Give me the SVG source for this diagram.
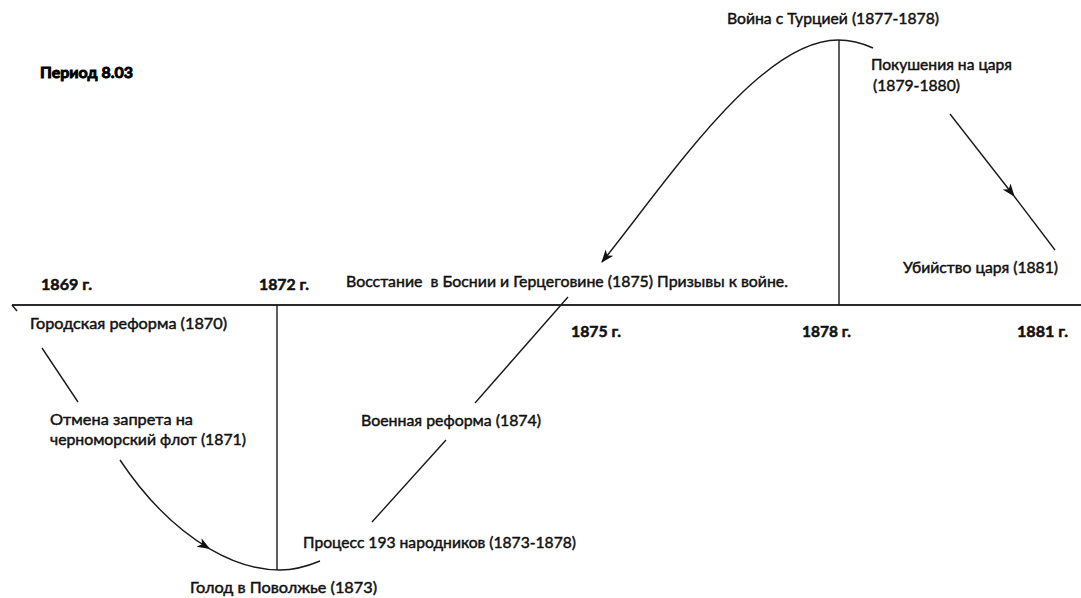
<svg xmlns="http://www.w3.org/2000/svg" width="1081" height="598" viewBox="0 0 1081 598">
<style>
.lbl{font-family:Lato,"Liberation Sans",sans-serif;font-size:15px;fill:#111;stroke:#111;stroke-width:0.45px;}
.yr{font-family:Lato,"Liberation Sans",sans-serif;font-size:15px;font-weight:bold;fill:#111;stroke:#111;stroke-width:0.5px;}
.ttl{font-family:Lato,"Liberation Sans",sans-serif;font-size:15px;font-weight:bold;fill:#000;stroke:#000;stroke-width:0.9px;}
.ln{fill:none;stroke:#1a1a1a;stroke-width:1.4;}
.axis{fill:none;stroke:#2a2a2a;stroke-width:1.8;}
</style>
<defs>
<marker id="ah" markerUnits="userSpaceOnUse" markerWidth="14" markerHeight="12" refX="12" refY="5" orient="auto" viewBox="0 0 14 10">
<path d="M0,0 L13,5 L0,10 L3.5,5 z" fill="#111"/>
</marker>
</defs>
<rect width="1081" height="598" fill="#fff"/>
<g id="connectors">
<path class="axis" d="M12,305 L1081,305"/>
<path class="ln" d="M12,305 L17,311"/>
<path class="ln" d="M277,305 L277,570"/>
<path class="ln" d="M839,40 L839,305"/>
<path class="ln" d="M42,348 L78,402"/>
<path class="ln" d="M120,460 C144,496 175.2,528.4 209.3,548.6" marker-end="url(#ah)"/>
<path class="ln" d="M209.3,548.6 C232,562 256,570 280,570 C295,570 308,566 320,561"/>
<path class="ln" d="M372,522 L446,440"/>
<path class="ln" d="M475,403 L568,297"/>
<path class="ln" d="M873,48 C862,43 852,40 838,40 C760,40 668,180 602,262" marker-end="url(#ah)"/>
<path class="ln" d="M950,114 L1014,196" marker-end="url(#ah)"/>
<path class="ln" d="M1014,196 L1055,250"/>
</g>
<g id="title"><text class="ttl" x="40" y="78" textLength="93" lengthAdjust="spacingAndGlyphs">Период 8.03</text></g>
<g id="y1869"><text class="yr" x="41" y="290" textLength="51" lengthAdjust="spacingAndGlyphs">1869 г.</text></g>
<g id="y1872"><text class="yr" x="259" y="290" textLength="50" lengthAdjust="spacingAndGlyphs">1872 г.</text></g>
<g id="y1875"><text class="yr" x="571" y="337" textLength="50" lengthAdjust="spacingAndGlyphs">1875 г.</text></g>
<g id="y1878"><text class="yr" x="802" y="337" textLength="49" lengthAdjust="spacingAndGlyphs">1878 г.</text></g>
<g id="y1881"><text class="yr" x="1017" y="337" textLength="51" lengthAdjust="spacingAndGlyphs">1881 г.</text></g>
<g id="bosnia"><text class="lbl" x="346" y="287" textLength="442" lengthAdjust="spacingAndGlyphs" xml:space="preserve">Восстание  в Боснии и Герцеговине (1875) Призывы к войне.</text></g>
<g id="war"><text class="lbl" x="727" y="24" textLength="212" lengthAdjust="spacingAndGlyphs">Война с Турцией (1877-1878)</text></g>
<g id="attempts">
<text class="lbl" x="871" y="70" textLength="141" lengthAdjust="spacingAndGlyphs">Покушения на царя</text>
<text class="lbl" x="873" y="91" textLength="87" lengthAdjust="spacingAndGlyphs">(1879-1880)</text>
</g>
<g id="murder"><text class="lbl" x="903" y="273" textLength="155" lengthAdjust="spacingAndGlyphs">Убийство царя (1881)</text></g>
<g id="cityreform"><text class="lbl" x="30" y="329" textLength="197" lengthAdjust="spacingAndGlyphs">Городская реформа (1870)</text></g>
<g id="fleet">
<text class="lbl" x="50" y="425" textLength="143" lengthAdjust="spacingAndGlyphs">Отмена запрета на</text>
<text class="lbl" x="50" y="445" textLength="196" lengthAdjust="spacingAndGlyphs">черноморский флот (1871)</text>
</g>
<g id="military"><text class="lbl" x="361" y="426" textLength="180" lengthAdjust="spacingAndGlyphs">Военная реформа (1874)</text></g>
<g id="trial"><text class="lbl" x="303" y="548" textLength="273" lengthAdjust="spacingAndGlyphs">Процесс 193 народников (1873-1878)</text></g>
<g id="famine"><text class="lbl" x="190" y="593" textLength="187" lengthAdjust="spacingAndGlyphs">Голод в Поволжье (1873)</text></g>
</svg>
